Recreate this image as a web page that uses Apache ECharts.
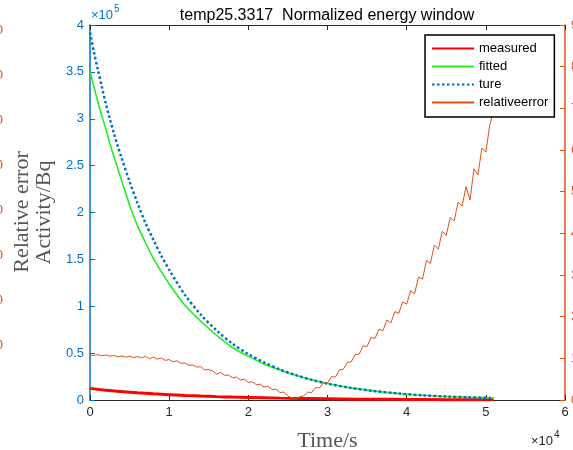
<!DOCTYPE html>
<html><head><meta charset="utf-8">
<script src="https://cdn.jsdelivr.net/npm/echarts@6/dist/echarts.min.js"></script>
<style>html,body{margin:0;padding:0;background:#fff}#c{width:573px;height:450px}</style>
</head><body><div id="c"></div>
<script>
// ---- data ----
const titleText = 'temp25.3317  Normalized energy window';
const xTickLabels = ['0','1','2','3','4','5','6'];            // ×10^4 s
const yLeftTickLabels = ['0','0.5','1','1.5','2','2.5','3','3.5','4']; // ×10^5 Bq
const yRightTickLabels = ['0','1','2','3','4','5','6','7','8','9'];
const yOuterTickLabels = ['10','20','30','40','50','60','70','80'];

const curveTimes = [0,500,1000,1500,2000,2500,3000,3500,4000,5000,6000,7000,8000,9000,10000,12000,14000,16000,18000,20000,22000,24000,26000,28000,30000,33000,36000,39000,42000,45000,48000,51000];
const trueVals   = [392000,371000,352000,334000,316000,300000,285000,271000,258000,233000,210000,189000,171000,154000,139000,112000,91000,74000,60000,49000,40000,32500,26500,21500,17500,12800,9400,6900,5000,3700,2800,2100];
const fittedVals = [350000,334000,318000,303000,289000,274000,260000,247000,234000,208000,186000,168000,151000,137000,124000,101000,84000,69000,56000,46500,38500,32000,26300,21500,17600,12900,9500,7000,5100,3800,2900,2200];

const measTimes = [0,2000,4000,6000,8000,10000,12000,14000,16000,18000,20000,24000,28000,32000,36000,40000,45000,51000];
const measVals  = [12400,10500,9000,7700,6600,5700,4900,4200,3600,3100,2700,2000,1500,1100,800,600,400,250];

const relErrStep = 500; // sampling step in s
const relErrVals = [
 1.08,1.07,1.09,1.06,1.08,1.05,1.07,1.04,1.06,1.03,
 1.05,1.02,1.04,1.01,1.05,0.99,1.03,0.98,1.01,0.95,
 0.97,0.92,0.94,0.88,0.89,0.83,0.84,0.79,0.80,0.72,
 0.73,0.70,0.62,0.66,0.59,0.60,0.53,0.55,0.48,0.50,
 0.42,0.44,0.37,0.38,0.31,0.33,0.25,0.26,0.18,0.19,
 0.09,0.05,0.02,0.08,0.10,0.19,0.18,0.30,0.29,0.42,
 0.40,0.56,0.55,0.72,0.74,0.90,0.92,1.09,1.10,1.30,
 1.28,1.50,1.48,1.70,1.66,1.92,1.85,2.12,2.08,2.35,
 2.30,2.62,2.55,2.95,2.90,3.35,3.28,3.72,3.62,4.05,
 3.95,4.38,4.30,4.75,4.65,5.12,4.80,5.55,5.40,6.05,
 5.95,6.60,6.95
];

// ---- build ----
const pairs = (ts, vs) => ts.map((t, i) => [t, vs[i]]);
const relErrData = relErrVals.map((v, i) => [i * relErrStep, v]);

const SANS = 'Liberation Sans';
const SERIF = 'Liberation Serif';
const BLUE = '#0072BD', ORANGE = '#D95319', DARK = '#262626', NAMEGRAY = '#555555';

const chart = echarts.init(document.getElementById('c'), null, {renderer: 'canvas'});
chart.setOption({
  animation: false,
  backgroundColor: '#ffffff',
  title: {
    text: titleText, left: 322, top: 3, textAlign: 'center',
    textStyle: {fontFamily: SANS, fontSize: 16, fontWeight: 'normal', color: '#000'}
  },
  legend: {
    left: 425, top: 35, orient: 'vertical',
    itemWidth: 42, itemHeight: 14, itemGap: 5, padding: [7, 6, 8, 6],
    borderColor: '#000', borderWidth: 1.5, backgroundColor: '#fff',
    selectedMode: false,
    itemStyle: {opacity: 0},
    textStyle: {fontFamily: SANS, fontSize: 13, color: '#000'},
    data: ['measured', 'fitted', 'ture', 'relativeerror']
  },
  grid: [
    {left: 90, right: 8, top: 25, bottom: 50, outerBoundsMode: 'none', containLabel: false},
    {left: 10, width: 20, top: 30, height: 315, show: false, outerBoundsMode: 'none', containLabel: false}
  ],
  xAxis: [
    {type: 'value', gridIndex: 0, min: 0, max: 60000, interval: 10000, position: 'bottom',
     axisLine: {show: true, onZero: false, lineStyle: {color: DARK, width: 1}},
     axisTick: {show: true, inside: true, length: 5, lineStyle: {color: DARK}},
     axisLabel: {color: DARK, fontFamily: SANS, fontSize: 13, margin: 6,
       formatter: v => xTickLabels[Math.round(v / 10000)]},
     splitLine: {show: false},
     name: 'Time/s', nameLocation: 'middle', nameGap: 30,
     nameTextStyle: {fontFamily: SERIF, fontSize: 22, color: NAMEGRAY}},
    {type: 'value', gridIndex: 0, min: 0, max: 60000, interval: 10000, position: 'top',
     axisLine: {show: true, onZero: false, lineStyle: {color: DARK, width: 1}},
     axisTick: {show: true, inside: true, length: 5, lineStyle: {color: DARK}},
     axisLabel: {show: false}, splitLine: {show: false}},
    {type: 'value', gridIndex: 1, min: 0, max: 1, show: false}
  ],
  yAxis: [
    {type: 'value', gridIndex: 0, min: 0, max: 400000, interval: 50000, position: 'left',
     axisLine: {show: true, onZero: false, lineStyle: {color: BLUE, width: 1.5}},
     axisTick: {show: true, inside: true, length: 5, lineStyle: {color: BLUE}},
     axisLabel: {color: BLUE, fontFamily: SANS, fontSize: 13, margin: 6,
       formatter: v => yLeftTickLabels[Math.round(v / 50000)]},
     splitLine: {show: false},
     name: 'Activity/Bq', nameLocation: 'middle', nameGap: 29,
     nameTextStyle: {fontFamily: SERIF, fontSize: 22, color: NAMEGRAY}},
    {type: 'value', gridIndex: 0, min: 0, max: 9, interval: 1, position: 'right',
     axisLine: {show: true, onZero: false, lineStyle: {color: ORANGE, width: 1.5}},
     axisTick: {show: true, inside: true, length: 5, lineStyle: {color: ORANGE}},
     axisLabel: {color: ORANGE, fontFamily: SANS, fontSize: 13, margin: 6,
       formatter: v => yRightTickLabels[Math.round(v)]},
     splitLine: {show: false}},
    {type: 'value', gridIndex: 1, min: 10, max: 80, interval: 10, position: 'left',
     axisLine: {show: false, onZero: false}, axisTick: {show: false},
     axisLabel: {color: ORANGE, fontFamily: SANS, fontSize: 13, margin: 7,
       formatter: v => yOuterTickLabels[Math.round(v / 10) - 1]},
     splitLine: {show: false}}
  ],
  series: [
    {name: 'measured', type: 'line', xAxisIndex: 0, yAxisIndex: 0, data: pairs(measTimes, measVals),
     symbol: 'none', smooth: true, color: '#FF0000', lineStyle: {color: '#FF0000', width: 3}},
    {name: 'fitted', type: 'line', xAxisIndex: 0, yAxisIndex: 0, data: pairs(curveTimes, fittedVals),
     symbol: 'none', smooth: 0.3, color: '#22EE22', lineStyle: {color: '#22EE22', width: 1.6}},
    {name: 'ture', type: 'line', xAxisIndex: 0, yAxisIndex: 0, data: pairs(curveTimes, trueVals),
     symbol: 'none', smooth: 0.3, color: BLUE, lineStyle: {color: BLUE, width: 2.5, type: [2.5, 2.5]}},
    {name: 'relativeerror', type: 'line', xAxisIndex: 0, yAxisIndex: 1, data: relErrData,
     symbol: 'none', color: ORANGE, lineStyle: {color: ORANGE, width: 1}}
  ],
  graphic: [
    {type: 'text', left: 91, top: 9, style: {text: '×10', fill: BLUE, font: '13px "Liberation Sans"'}},
    {type: 'text', left: 114, top: 4, style: {text: '5', fill: BLUE, font: '10px "Liberation Sans"'}},
    {type: 'text', left: 531, top: 435, style: {text: '×10', fill: DARK, font: '13px "Liberation Sans"'}},
    {type: 'text', left: 554, top: 430, style: {text: '4', fill: DARK, font: '10px "Liberation Sans"'}},
    {type: 'text', x: 22, y: 212, rotation: Math.PI / 2,
     style: {text: 'Relative error', fill: NAMEGRAY, font: '22px "Liberation Serif"', align: 'center', verticalAlign: 'middle'}}
  ]
});
</script>
</body></html>
